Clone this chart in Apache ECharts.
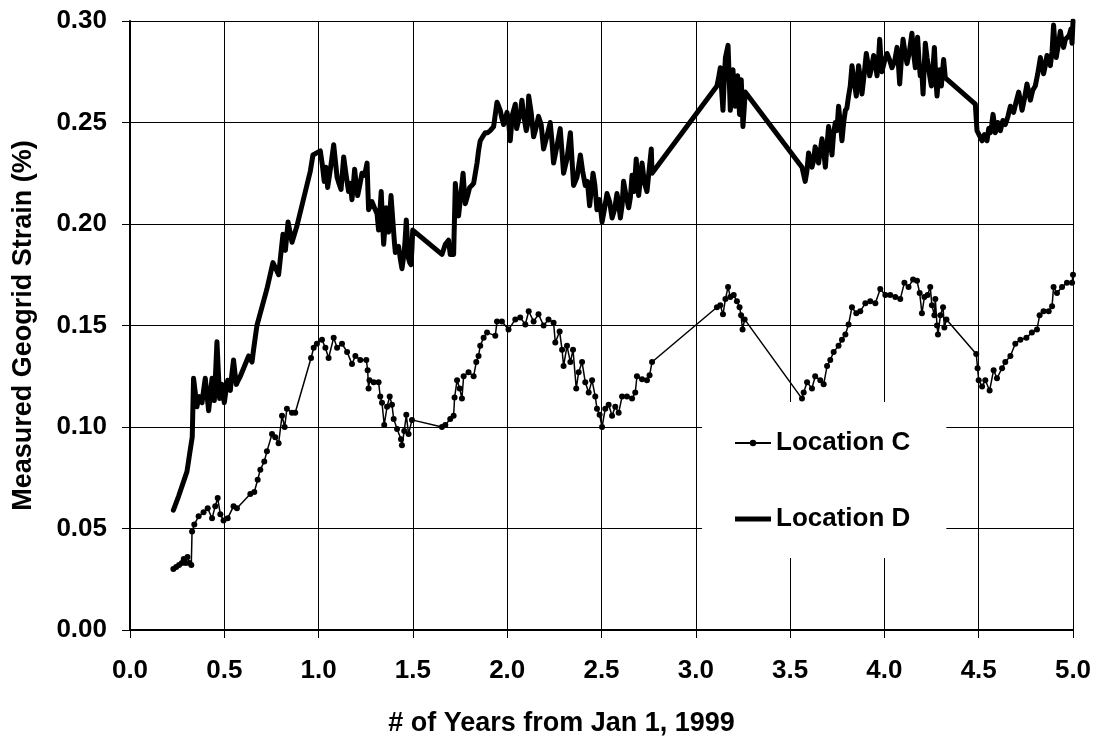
<!DOCTYPE html>
<html>
<head>
<meta charset="utf-8">
<script src="https://cdn.jsdelivr.net/npm/echarts@6/dist/echarts.min.js"></script>
<style>
  html, body { margin: 0; padding: 0; background: #fff; }
  #chart { width: 1096px; height: 742px; }
</style>
</head>
<body>
<div id="chart"></div>
<script>
// Measured geogrid strain (%) against years elapsed since Jan 1, 1999: [years, strain]
const locationC = [
  [0.230,0.030],[0.245,0.031],[0.260,0.032],[0.275,0.033],[0.285,0.035],[0.295,0.033],[0.305,0.036],[0.315,0.033],[0.325,0.032],
  [0.329,0.0485],[0.341,0.052],[0.364,0.056],[0.390,0.058],[0.412,0.060],[0.435,0.055],[0.452,0.061],[0.465,0.065],[0.479,0.057],
  [0.496,0.054],[0.518,0.055],[0.549,0.061],[0.567,0.060],[0.638,0.067],[0.659,0.068],[0.677,0.074],[0.691,0.079],[0.712,0.083],
  [0.726,0.088],[0.753,0.0965],[0.770,0.095],[0.788,0.092],[0.806,0.1055],[0.820,0.100],[0.832,0.109],[0.859,0.107],[0.876,0.107],
  [0.960,0.134],[0.974,0.139],[0.991,0.141],[1.018,0.143],[1.036,0.139],[1.053,0.134],[1.080,0.144],[1.098,0.139],[1.124,0.141],
  [1.151,0.137],[1.177,0.131],[1.195,0.135],[1.221,0.133],[1.253,0.133],[1.260,0.128],[1.265,0.119],[1.270,0.123],[1.292,0.122],
  [1.318,0.122],[1.327,0.115],[1.336,0.112],[1.348,0.101],[1.363,0.110],[1.377,0.115],[1.389,0.111],[1.398,0.104],[1.416,0.099],
  [1.437,0.094],[1.442,0.091],[1.454,0.098],[1.465,0.106],[1.477,0.0965],[1.495,0.1035],[1.654,0.100],[1.672,0.101],[1.698,0.104],
  [1.716,0.1055],[1.721,0.1145],[1.734,0.123],[1.748,0.119],[1.760,0.114],[1.769,0.125],[1.795,0.127],[1.822,0.125],[1.836,0.132],
  [1.848,0.135],[1.857,0.140],[1.875,0.144],[1.893,0.1465],[1.937,0.145],[1.946,0.152],[1.972,0.152],[2.007,0.148],[2.043,0.153],
  [2.069,0.154],[2.096,0.1505],[2.114,0.157],[2.140,0.152],[2.166,0.1555],[2.193,0.150],[2.219,0.153],[2.246,0.1514],[2.255,0.1416],
  [2.278,0.147],[2.291,0.138],[2.299,0.130],[2.317,0.140],[2.335,0.132],[2.349,0.138],[2.366,0.119],[2.379,0.127],[2.397,0.132],
  [2.414,0.122],[2.432,0.117],[2.450,0.123],[2.467,0.115],[2.476,0.109],[2.490,0.106],[2.503,0.100],[2.520,0.109],[2.538,0.111],
  [2.556,0.1055],[2.573,0.110],[2.591,0.107],[2.609,0.115],[2.635,0.115],[2.662,0.114],[2.679,0.117],[2.688,0.125],[2.715,0.1235],
  [2.741,0.123],[2.755,0.1255],[2.768,0.132],[3.112,0.159],[3.130,0.160],[3.144,0.1555],[3.157,0.163],[3.171,0.169],[3.183,0.164],
  [3.201,0.165],[3.218,0.162],[3.232,0.159],[3.240,0.155],[3.248,0.148],[3.259,0.153],[3.563,0.114],[3.572,0.117],[3.590,0.122],
  [3.616,0.119],[3.633,0.125],[3.660,0.123],[3.678,0.121],[3.696,0.130],[3.713,0.133],[3.731,0.137],[3.757,0.140],[3.775,0.143],
  [3.793,0.1456],[3.810,0.1505],[3.828,0.159],[3.851,0.156],[3.872,0.157],[3.899,0.161],[3.925,0.162],[3.952,0.161],[3.978,0.168],
  [4.005,0.165],[4.031,0.165],[4.058,0.164],[4.084,0.163],[4.106,0.171],[4.128,0.169],[4.152,0.1726],[4.173,0.172],[4.187,0.166],
  [4.199,0.156],[4.212,0.164],[4.229,0.165],[4.243,0.169],[4.252,0.160],[4.265,0.155],[4.270,0.163],[4.279,0.150],[4.284,0.1456],
  [4.297,0.155],[4.311,0.159],[4.318,0.149],[4.329,0.153],[4.487,0.136],[4.494,0.129],[4.500,0.123],[4.518,0.120],[4.535,0.123],
  [4.558,0.118],[4.579,0.128],[4.597,0.124],[4.624,0.129],[4.641,0.132],[4.668,0.135],[4.694,0.141],[4.721,0.143],[4.753,0.144],
  [4.782,0.1465],[4.809,0.148],[4.823,0.155],[4.844,0.157],[4.871,0.157],[4.889,0.1595],[4.897,0.169],[4.915,0.166],[4.942,0.169],
  [4.968,0.171],[4.995,0.171],[5.000,0.175]
];

// Location D: spikes of the reading band
const locationDPeaks = [
  [0.230,0.059],[0.258,0.066],[0.302,0.078],[0.323,0.091],[0.330,0.095],[0.337,0.124],[0.355,0.110],[0.367,0.115],[0.382,0.112],
  [0.399,0.124],[0.417,0.108],[0.435,0.124],[0.447,0.113],[0.461,0.142],[0.475,0.114],[0.488,0.121],[0.500,0.112],[0.518,0.123],
  [0.532,0.118],[0.549,0.133],[0.564,0.121],[0.585,0.125],[0.629,0.135],[0.647,0.132],[0.655,0.138],[0.673,0.150],[0.726,0.168],
  [0.758,0.181],[0.788,0.175],[0.811,0.195],[0.824,0.187],[0.838,0.201],[0.859,0.191],[0.885,0.199],[0.956,0.226],[0.970,0.234],
  [1.009,0.236],[1.030,0.221],[1.048,0.218],[1.080,0.239],[1.098,0.223],[1.119,0.217],[1.133,0.233],[1.159,0.216],[1.177,0.212],
  [1.191,0.227],[1.207,0.214],[1.230,0.225],[1.257,0.230],[1.265,0.207],[1.283,0.211],[1.310,0.205],[1.318,0.197],[1.332,0.216],
  [1.345,0.190],[1.359,0.208],[1.371,0.196],[1.384,0.214],[1.398,0.196],[1.407,0.186],[1.424,0.189],[1.442,0.178],[1.454,0.186],
  [1.465,0.202],[1.477,0.183],[1.490,0.180],[1.499,0.197],[1.654,0.185],[1.672,0.190],[1.689,0.192],[1.698,0.185],[1.716,0.185],
  [1.725,0.220],[1.742,0.204],[1.766,0.225],[1.778,0.210],[1.801,0.218],[1.822,0.220],[1.840,0.230],[1.857,0.241],[1.884,0.245],
  [1.910,0.246],[1.928,0.248],[1.946,0.260],[1.963,0.256],[1.981,0.249],[1.999,0.255],[2.016,0.241],[2.043,0.259],[2.060,0.251],
  [2.078,0.261],[2.101,0.246],[2.114,0.263],[2.140,0.243],[2.166,0.253],[2.193,0.237],[2.228,0.250],[2.246,0.230],[2.281,0.247],
  [2.299,0.225],[2.335,0.245],[2.352,0.219],[2.388,0.234],[2.414,0.219],[2.437,0.209],[2.455,0.225],[2.476,0.207],[2.503,0.201],
  [2.529,0.215],[2.556,0.203],[2.582,0.215],[2.600,0.203],[2.617,0.221],[2.644,0.208],[2.662,0.224],[2.684,0.232],[2.697,0.214],
  [2.715,0.230],[2.741,0.216],[2.764,0.237],[2.768,0.225],[3.112,0.268],[3.130,0.277],[3.144,0.256],[3.157,0.282],[3.171,0.288],
  [3.183,0.256],[3.197,0.276],[3.209,0.258],[3.222,0.273],[3.232,0.254],[3.241,0.271],[3.250,0.248],[3.262,0.265],[3.563,0.228],
  [3.580,0.221],[3.598,0.235],[3.616,0.228],[3.633,0.238],[3.651,0.230],[3.669,0.242],[3.687,0.228],[3.704,0.248],[3.722,0.234],
  [3.740,0.250],[3.757,0.258],[3.775,0.241],[3.793,0.256],[3.810,0.263],[3.828,0.278],[3.851,0.263],[3.863,0.278],[3.881,0.264],
  [3.904,0.284],[3.922,0.273],[3.943,0.283],[3.961,0.273],[3.975,0.291],[3.987,0.275],[4.014,0.284],[4.040,0.277],[4.067,0.287],
  [4.081,0.269],[4.099,0.291],[4.120,0.279],[4.146,0.294],[4.164,0.277],[4.176,0.292],[4.190,0.273],[4.205,0.264],[4.217,0.289],
  [4.234,0.277],[4.249,0.268],[4.265,0.287],[4.279,0.263],[4.293,0.276],[4.302,0.268],[4.314,0.281],[4.323,0.272],[4.482,0.259],
  [4.491,0.246],[4.518,0.241],[4.544,0.241],[4.562,0.245],[4.576,0.254],[4.588,0.245],[4.615,0.246],[4.641,0.249],[4.668,0.258],
  [4.685,0.255],[4.712,0.265],[4.730,0.256],[4.756,0.269],[4.774,0.261],[4.800,0.268],[4.827,0.282],[4.844,0.274],[4.862,0.283],
  [4.880,0.278],[4.897,0.298],[4.911,0.282],[4.933,0.295],[4.950,0.287],[4.971,0.292],[4.989,0.296],[4.995,0.289],[5.000,0.300]
];

// Location D: readings inside the band between the spikes
const locationDBand = [
  [0.346,0.117],[0.361,0.113],[0.374,0.113],[0.390,0.118],[0.408,0.116],[0.426,0.116],[0.441,0.118],[0.454,0.127],[0.468,0.128],
  [0.481,0.118],[0.494,0.116],[0.509,0.118],[0.525,0.120],[0.540,0.126],[0.556,0.127],[0.574,0.123],
  [1.020,0.229],[1.039,0.228],[1.064,0.228],[1.089,0.231],[1.108,0.220],[1.126,0.225],[1.146,0.224],[1.168,0.220],[1.184,0.219],
  [1.199,0.220],[1.218,0.219],[1.244,0.224],[1.261,0.218],[1.274,0.209],[1.296,0.208],[1.314,0.201],[1.325,0.206],[1.338,0.203],
  [1.352,0.199],[1.365,0.202],[1.378,0.205],[1.391,0.205],[1.402,0.191],[1.415,0.188],[1.433,0.183],[1.448,0.182],[1.460,0.194],
  [1.471,0.192],[1.483,0.181],[1.495,0.188],
  [1.733,0.212],[1.754,0.214],[1.772,0.217],[1.790,0.214],[1.812,0.219],[1.831,0.225],[1.848,0.236],[1.870,0.243],[1.897,0.245],
  [1.919,0.247],[1.937,0.254],[1.955,0.258],[1.972,0.252],[1.990,0.252],
  [2.008,0.250],[2.028,0.254],[2.050,0.247],[2.070,0.255],[2.090,0.252],[2.108,0.249],[2.127,0.255],[2.152,0.247],[2.180,0.249],
  [2.210,0.243],[2.237,0.241],[2.263,0.238],[2.290,0.236],[2.317,0.232],[2.344,0.231],[2.370,0.223],[2.400,0.226],[2.425,0.221],
  [2.445,0.216],[2.465,0.219],[2.490,0.212],[2.515,0.207],[2.543,0.211],[2.569,0.207],[2.591,0.210],[2.609,0.209],[2.630,0.214],
  [2.653,0.213],[2.673,0.216],[2.706,0.222],[2.728,0.220],[2.752,0.226],
  [3.121,0.272],[3.137,0.266],[3.150,0.269],[3.164,0.285],[3.177,0.272],[3.190,0.266],[3.203,0.267],[3.215,0.265],[3.227,0.263],
  [3.236,0.262],[3.246,0.259],[3.256,0.256],
  [3.589,0.226],[3.607,0.232],[3.624,0.231],[3.642,0.235],[3.660,0.236],[3.678,0.236],[3.695,0.238],[3.713,0.242],[3.731,0.245],
  [3.748,0.246],[3.766,0.250],[3.784,0.250],[3.801,0.257],[3.819,0.268],[3.840,0.270],[3.857,0.270],[3.872,0.272],[3.893,0.274],
  [3.913,0.279],[3.932,0.277],[3.952,0.279],[3.968,0.280],[3.981,0.282],[4.000,0.280],[4.027,0.281],[4.054,0.280],[4.074,0.279],
  [4.090,0.281],[4.110,0.284],[4.133,0.285],[4.155,0.284],[4.170,0.285],[4.183,0.281],[4.198,0.276],[4.211,0.277],[4.226,0.282],
  [4.242,0.272],[4.257,0.276],[4.272,0.273],[4.286,0.271],[4.298,0.272],[4.308,0.275],[4.319,0.276],
  [4.530,0.244],[4.553,0.247],[4.569,0.249],[4.582,0.250],[4.601,0.250],[4.628,0.251],[4.655,0.253],[4.677,0.257],[4.698,0.260],
  [4.721,0.261],[4.743,0.262],[4.765,0.265],[4.787,0.266],[4.813,0.274],[4.836,0.278],[4.853,0.278],[4.871,0.281],[4.889,0.285],
  [4.904,0.289],[4.922,0.288],[4.942,0.290],[4.960,0.291],[4.980,0.293]
];

// Axis ranges and tick steps
const xRange = [0, 5.0, 0.5];
const yRange = [0, 0.30, 0.05];
const xTitle = '# of Years from Jan 1, 1999';
const yTitle = 'Measured Geogrid Strain (%)';
const seriesNames = ['Location C', 'Location D'];

const locationD = locationDPeaks.concat(locationDBand).sort((a, b) => a[0] - b[0]);

const FONT = "'Liberation Sans', Arial, Helvetica, sans-serif";
const boldText = { fontFamily: FONT, fontWeight: 'bold', fontSize: 26, color: '#000' };
const titleText = Object.assign({}, boldText, { fontSize: 27 });

const chart = echarts.init(document.getElementById('chart'), null, { renderer: 'canvas' });

chart.setOption({
  animation: false,
  backgroundColor: '#fff',
  grid: { left: 130, right: 23, top: 21, bottom: 110 },
  legend: {
    orient: 'vertical',
    left: 702,
    top: 402,
    padding: [26, 36, 24, 32],
    backgroundColor: '#fff',
    borderWidth: 0,
    itemWidth: 36,
    itemHeight: 8,
    itemGap: 46,
    textStyle: Object.assign({ lineHeight: 30 }, boldText),
    data: [
      { name: seriesNames[0] },
      { name: seriesNames[1], icon: 'path://M0,0H36V5H0Z', itemStyle: { color: '#000' } }
    ]
  },
  xAxis: {
    type: 'value',
    min: xRange[0], max: xRange[1], interval: xRange[2],
    name: xTitle,
    nameLocation: 'middle',
    nameGap: 80,
    nameTextStyle: Object.assign({ padding: [0, 80, 0, 0] }, titleText),
    axisLine: { show: true, lineStyle: { color: '#000', width: 2 } },
    axisTick: { show: true, length: 8, lineStyle: { color: '#000', width: 1 } },
    axisLabel: Object.assign({ margin: 28, formatter: v => v.toFixed(1) }, boldText),
    splitLine: { show: true, lineStyle: { color: '#000', width: 1 } }
  },
  yAxis: {
    type: 'value',
    min: yRange[0], max: yRange[1], interval: yRange[2],
    name: yTitle,
    nameLocation: 'middle',
    nameRotate: 90,
    nameGap: 93,
    nameTextStyle: titleText,
    axisLine: { show: true, lineStyle: { color: '#000', width: 2 } },
    axisTick: { show: true, length: 8, lineStyle: { color: '#000', width: 1 } },
    axisLabel: Object.assign({ margin: 23, formatter: v => v.toFixed(2) }, boldText),
    splitLine: { show: true, lineStyle: { color: '#000', width: 1 } }
  },
  series: [
    {
      name: seriesNames[0],
      type: 'line',
      data: locationC,
      symbol: 'circle',
      symbolSize: 6,
      showSymbol: true,
      showAllSymbol: true,
      itemStyle: { color: '#000' },
      lineStyle: { color: '#000', width: 1.5 },
      z: 3
    },
    {
      name: seriesNames[1],
      type: 'line',
      data: locationD,
      symbol: 'none',
      itemStyle: { color: '#000' },
      lineStyle: { color: '#000', width: 5, join: 'round', cap: 'round' },
      z: 3
    }
  ]
});
</script>
</body>
</html>
